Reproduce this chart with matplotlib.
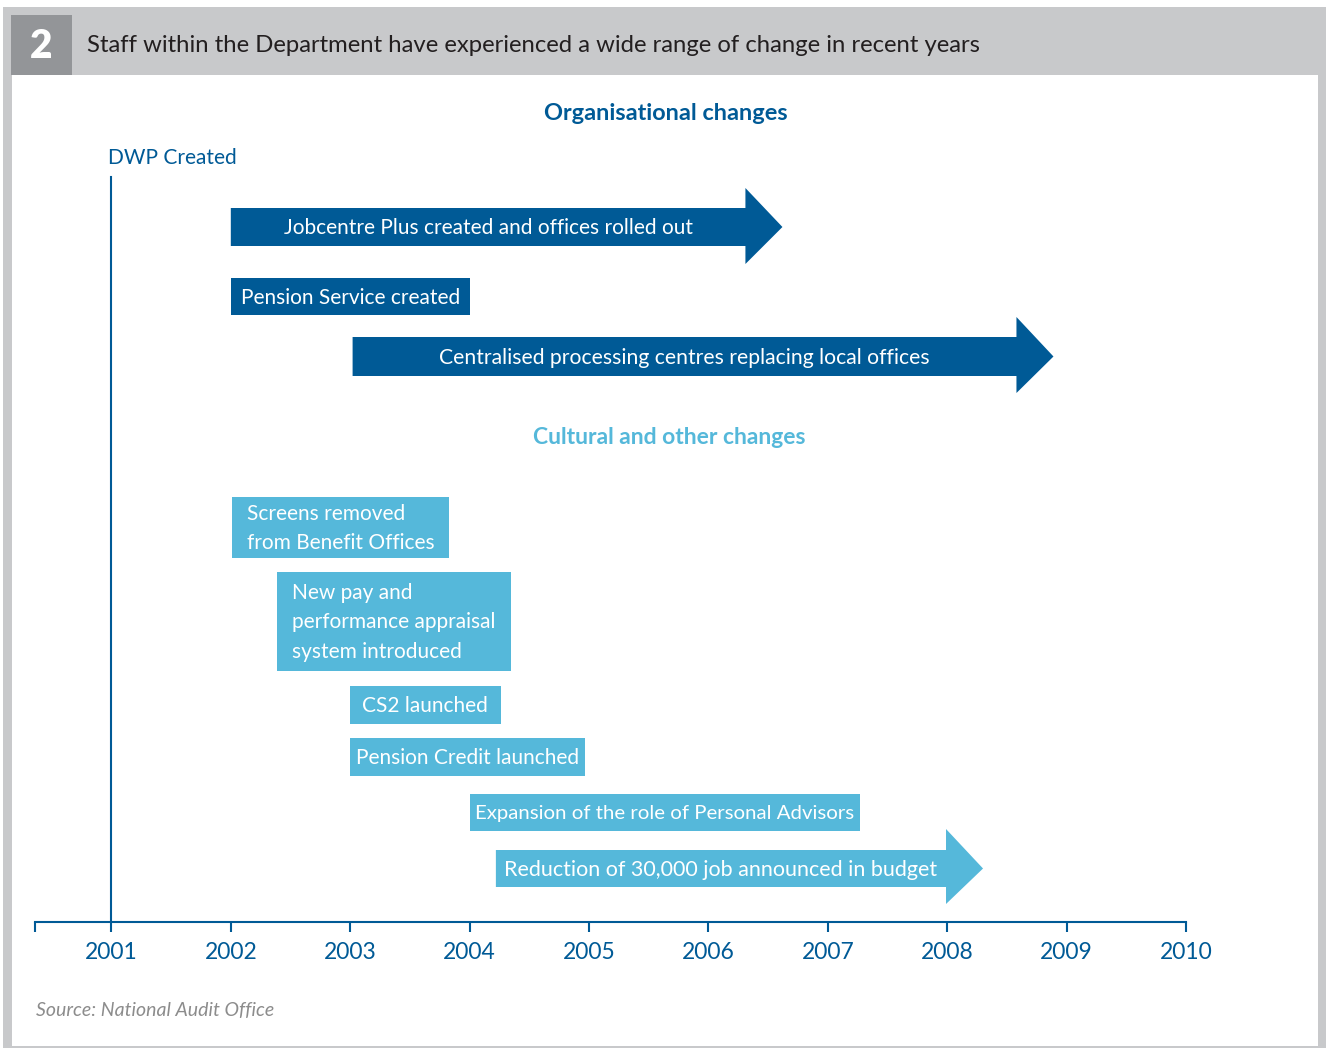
import matplotlib
matplotlib.use("Agg")
import matplotlib.pyplot as plt
from matplotlib.patches import Rectangle, Polygon

# ---------------- data ----------------
years = [2001, 2002, 2003, 2004, 2005, 2006, 2007, 2008, 2009, 2010]
year_labels = [str(y) for y in years]
axis_start = 2000.36          # left end of the timeline
dwp_year = 2001

org_labels = ["Jobcentre Plus created and offices rolled out",
              "Pension Service created",
              "Centralised processing centres replacing local offices"]
org_start = [2002.0, 2002.0, 2003.02]
org_end = [2006.62, 2004.0, 2008.89]
org_arrow = [True, False, True]

cult_labels = ["Screens removed\nfrom Benefit Offices",
               "New pay and\nperformance appraisal\nsystem introduced",
               "CS2 launched",
               "Pension Credit launched",
               "Expansion of the role of Personal Advisors",
               "Reduction of 30,000 job announced in budget"]
cult_start = [2002.01, 2002.385, 2003.0, 2003.0, 2004.0, 2004.22]
cult_end = [2003.83, 2004.35, 2004.26, 2004.965, 2007.27, 2008.30]
cult_arrow = [False, False, False, False, False, True]

# ---------------- style / layout ----------------
W, H = 1326, 1048
DARK = "#005A96"
LIGHT = "#55B8DA"
GREY = "#C8C9CB"
DGREY = "#939598"
FONT = ["Lato", "DejaVu Sans"]
plt.rcParams["font.family"] = FONT

# vertical layout (pixel rows): (body top, body bottom, head top, head bottom)
org_rows = [(208, 246, 188, 264), (278, 315, None, None), (337, 376, 317, 393)]
cult_rows = [(497, 558, None, None), (572, 671, None, None), (686, 724, None, None),
             (738, 776, None, None), (794, 831, None, None), (850, 887, 829, 904)]
org_fs = [15, 15, 15.2]
cult_fs = [15, 15, 15, 15, 14.7, 15.5]
head_len = 0.31  # years

fig = plt.figure(figsize=(W / 100, H / 100), dpi=100)

# background frame
bg = fig.add_axes([0, 0, 1, 1])
bg.set_xlim(0, W)
bg.set_ylim(H, 0)
bg.axis("off")
bg.add_patch(Rectangle((3, 7), W - 3, H - 7, color=GREY, lw=0))
bg.add_patch(Rectangle((12, 75), 1318 - 12, 1046 - 75, color="white", lw=0))
bg.add_patch(Rectangle((11, 15), 61, 60, color=DGREY, lw=0))
bg.text(41, 47, "2", color="white", fontsize=28, fontweight="heavy",
        ha="center", va="center")
bg.text(87, 45, "Staff within the Department have experienced a wide range of change in recent years",
        color="#231F20", fontsize=17.2, ha="left", va="center")
bg.text(36, 1011, "Source: National Audit Office", color="#8C8C8C",
        fontsize=14, style="italic", ha="left", va="center")

# main timeline axes
x_left_px, x_right_px = 35, 1186
y_axis_px, y_top_px = 922, 75
ax = fig.add_axes([x_left_px / W, (H - y_axis_px) / H,
                   (x_right_px - x_left_px) / W, (y_axis_px - y_top_px) / H])
ax.patch.set_alpha(0)
ax.set_xlim(axis_start, years[-1])
ax.set_ylim(y_axis_px, y_top_px)
for s in ["top", "right", "left"]:
    ax.spines[s].set_visible(False)
ax.spines["bottom"].set_color(DARK)
ax.spines["bottom"].set_linewidth(1.5)
ax.set_yticks([])
ax.set_xticks([axis_start] + years)
ax.set_xticklabels([""] + year_labels)
ax.tick_params(axis="x", direction="out", length=7.5, width=1.5, color=DARK,
               labelcolor=DARK, labelsize=16.5, pad=7)
for lab in ax.get_xticklabels():
    lab.set_fontfamily(FONT)


def draw_item(x0, x1, row, color, label, arrow, fs):
    bt, bb, ht, hb = row
    mid = (bt + bb) / 2
    if arrow:
        xb = x1 - head_len
        pts = [(x0, bt), (xb, bt), (xb, ht), (x1, mid), (xb, hb), (xb, bb), (x0, bb)]
        cx = (x0 + xb) / 2
    else:
        pts = [(x0, bt), (x1, bt), (x1, bb), (x0, bb)]
        cx = (x0 + x1) / 2
    ax.add_patch(Polygon(pts, closed=True, color=color, lw=0))
    ax.text(cx, mid + 1, label, color="white", fontsize=fs, ha="center", va="center",
            multialignment="left", linespacing=1.6)


# DWP created
ax.plot([dwp_year, dwp_year], [y_axis_px, 177], color=DARK, lw=1.5)
ax.text(dwp_year - 0.03, 158, "DWP Created", color=DARK, fontsize=15,
        ha="left", va="center")

ax.text(2005.64, 113, "Organisational changes", color=DARK, fontsize=16.9,
        fontweight="bold", ha="center", va="center")
ax.text(2005.67, 438, "Cultural and other changes", color=LIGHT, fontsize=16.5,
        fontweight="bold", ha="center", va="center")

for lab, s, e, a, r, f in zip(org_labels, org_start, org_end, org_arrow, org_rows, org_fs):
    draw_item(s, e, r, DARK, lab, a, f)
for lab, s, e, a, r, f in zip(cult_labels, cult_start, cult_end, cult_arrow, cult_rows, cult_fs):
    draw_item(s, e, r, LIGHT, lab, a, f)

fig.savefig("out.png", dpi=100)
